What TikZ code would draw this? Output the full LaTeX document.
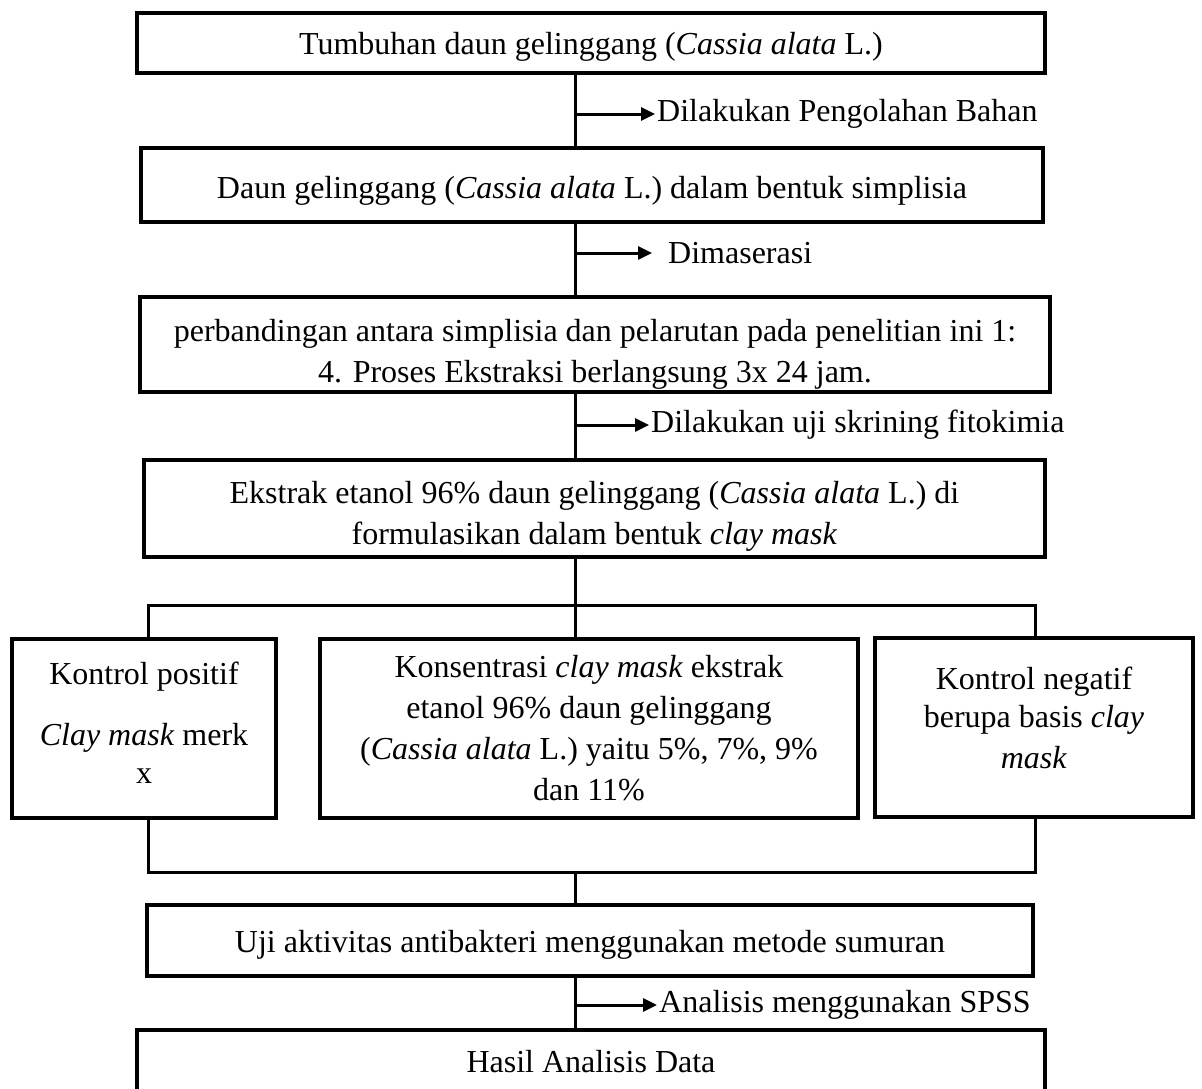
\documentclass[tikz,border=0pt]{standalone}
\usepackage{fontspec}
\setmainfont{Liberation Serif}
\usetikzlibrary{arrows.meta}
\newcommand\tdown[1]{\rule{0pt}{#1}}
\newcommand\tup[1]{\rule[-#1]{0pt}{#1}}
\begin{document}
\begin{tikzpicture}[x=1pt,y=-1pt,
  box/.style={draw,line width=4pt,inner sep=0pt,align=center,font=\fontsize{32}{41}\selectfont},
  lbl/.style={inner sep=2pt,anchor=west,font=\fontsize{32}{41}\selectfont},
  conn/.style={line width=3pt},
  arr/.style={line width=3pt,-{Triangle[length=14pt,width=13pt]}}]
\useasboundingbox (0,0) rectangle (1202,1088);
\fill[white] (0,0) rectangle (1202,1088);
% boxes
\node[box,minimum width=908pt,minimum height=60pt] (b1) at (591,43) {\tdown{30pt}Tumbuhan daun gelinggang (\textit{Cassia alata} L.)};
\node[box,minimum width=902pt,minimum height=74pt] (b2) at (592,185) {\tdown{34pt}Daun gelinggang (\textit{Cassia alata} L.) dalam bentuk simplisia};
\node[box,minimum width=910pt,minimum height=95pt] (b3) at (595,344.5) {\tdown{42pt}perbandingan antara simplisia dan pelarutan pada penelitian ini 1:\\ 4. Proses Ekstraksi berlangsung 3x 24 jam.};
\node[box,minimum width=901pt,minimum height=97pt] (b4) at (594.5,508.5) {\tdown{38pt}Ekstrak etanol 96\% daun gelinggang (\textit{Cassia alata} L.) di\\ formulasikan dalam bentuk \textit{clay mask}};
\node[box,minimum width=264pt,minimum height=179pt] (kp) at (144,728.5) {Kontrol positif\\[20pt] \textit{Clay mask} merk\\[-3pt] x\tup{12pt}};
\node[box,minimum width=538pt,minimum height=179pt] (ks) at (589,728.5) {Konsentrasi \textit{clay mask} ekstrak\\ etanol 96\% daun gelinggang\\ (\textit{Cassia alata} L.) yaitu 5\%, 7\%, 9\%\\ dan 11\%};
\node[box,minimum width=318pt,minimum height=179pt] (kn) at (1034,727.5) {Kontrol negatif\\[-3pt] berupa basis \textit{clay}\\ \textit{mask}\tup{20pt}};
\node[box,minimum width=886pt,minimum height=71pt] (uji) at (590,940.5) {\tdown{30pt}Uji aktivitas antibakteri menggunakan metode sumuran};
\node[box,minimum width=908pt,minimum height=64pt] (hasil) at (591,1062) {Hasil Analisis Data};
% labels
\node[lbl] (l1) at (655,114) {Dilakukan Pengolahan Bahan};
\node[lbl] (l2) at (666,253) {Dimaserasi};
\node[lbl] (l3) at (649,425) {Dilakukan uji skrining fitokimia};
\node[lbl] (l4) at (657,1005) {Analisis menggunakan SPSS};
\coordinate (l2end) at (652,253);
% connectors
\coordinate (cx) at (575,0);
\draw[conn] (b1.south -| cx) -- (b2.north -| cx);
\draw[arr] (l1.west -| cx) -- (l1.west);
\draw[conn] (b2.south -| cx) -- (b3.north -| cx);
\draw[arr] (l2end -| cx) -- (l2end);
\draw[conn] (b3.south -| cx) -- (b4.north -| cx);
\draw[arr] (l3.west -| cx) -- (l3.west);
\draw[conn] (b4.south -| cx) -- (ks.north -| cx);
\coordinate (tl) at (148,605);
\coordinate (tr) at (1035,605);
\draw[conn] (kp.north -| tl) -- (tl) -- (tr) -- (kn.north -| tr);
\coordinate (bl) at (148,872);
\coordinate (br) at (1035,872);
\draw[conn] (kp.south -| bl) -- (bl) -- (br) -- (kn.south -| br);
\draw[conn] (bl -| cx) -- (uji.north -| cx);
\draw[conn] (uji.south -| cx) -- (hasil.north -| cx);
\draw[arr] (l4.west -| cx) -- (l4.west);
\end{tikzpicture}
\end{document}
